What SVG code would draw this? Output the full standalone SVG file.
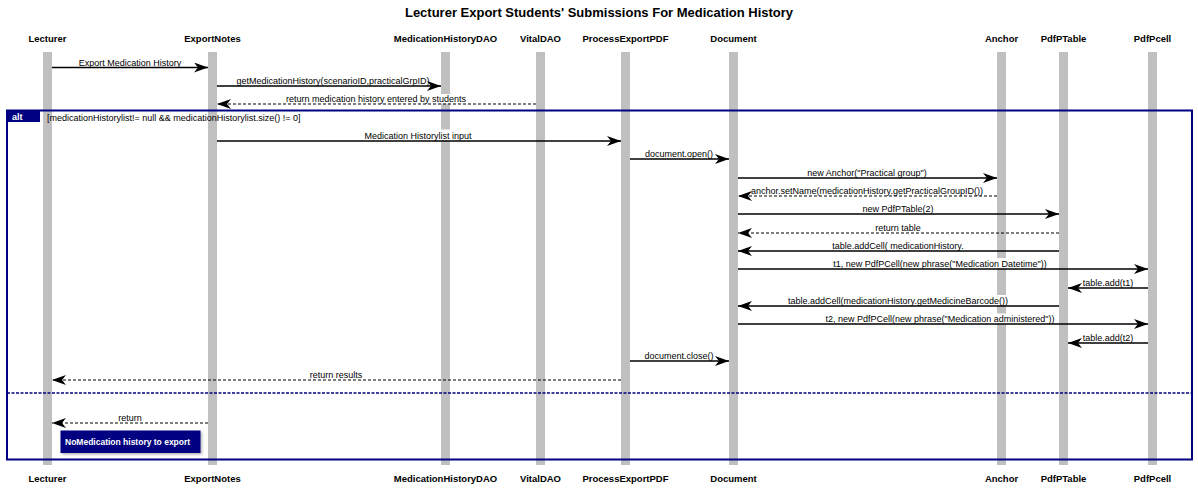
<svg xmlns="http://www.w3.org/2000/svg" width="1198" height="490" viewBox="0 0 1198 490">
<style>
.title{font-family:"Liberation Sans",Arial,sans-serif;font-size:13px;font-weight:bold;fill:#000;text-anchor:middle}
.pname{font-family:"Liberation Sans",Arial,sans-serif;font-size:9.5px;font-weight:bold;fill:#000;text-anchor:middle}
.life{fill:#c0c0c0}
.gap{fill:#fff}
.msg{stroke:#000;stroke-width:1.4;fill:none;marker-end:url(#head)}
.ret{stroke:#000;stroke-width:1.2;fill:none;stroke-dasharray:3,2;marker-end:url(#head)}
.lbl{font-family:"Liberation Sans",Arial,sans-serif;font-size:9px;fill:#000;text-anchor:middle}
.cond{font-family:"Liberation Sans",Arial,sans-serif;font-size:9px;fill:#000}
.frame{fill:none;stroke:#000080;stroke-width:2}
.tab{fill:#000080}
.tabtxt{font-family:"Liberation Sans",Arial,sans-serif;font-size:9px;font-weight:bold;fill:#fff}
.note{fill:#000080}
.notetxt{font-family:"Liberation Sans",Arial,sans-serif;font-size:8.5px;font-weight:bold;fill:#fff}
</style>
<defs>
<marker id="head" markerUnits="userSpaceOnUse" markerWidth="15" markerHeight="11" refX="14" refY="5" orient="auto">
<path d="M0,0 L14,5 L0,10 L4,5 z" fill="#000"/>
</marker>
<filter id="shadow" x="-10%" y="-10%" width="130%" height="140%">
<feDropShadow dx="1.5" dy="1.5" stdDeviation="1" flood-color="#000" flood-opacity="0.3"/>
</filter>
</defs>
<rect width="1198" height="490" fill="#fff"/>
<text class="title" x="599" y="17">Lecturer Export Students' Submissions For Medication History</text>

<g id="lecturer"><text class="pname" x="47.5" y="42">Lecturer</text><rect class="life" x="43" y="52" width="9" height="413"/><text class="pname" x="47.5" y="482">Lecturer</text></g>
<g id="exportnotes"><text class="pname" x="212.5" y="42">ExportNotes</text><rect class="life" x="208" y="52" width="9" height="413"/><text class="pname" x="212.5" y="482">ExportNotes</text></g>
<g id="medicationhistorydao"><text class="pname" x="445.5" y="42">MedicationHistoryDAO</text><rect class="life" x="441" y="52" width="9" height="413"/><text class="pname" x="445.5" y="482">MedicationHistoryDAO</text></g>
<g id="vitaldao"><text class="pname" x="540.5" y="42">VitalDAO</text><rect class="life" x="536" y="52" width="9" height="413"/><text class="pname" x="540.5" y="482">VitalDAO</text></g>
<g id="processexportpdf"><text class="pname" x="625.5" y="42">ProcessExportPDF</text><rect class="life" x="621" y="52" width="9" height="413"/><text class="pname" x="625.5" y="482">ProcessExportPDF</text></g>
<g id="document"><text class="pname" x="733.5" y="42">Document</text><rect class="life" x="729" y="52" width="9" height="413"/><text class="pname" x="733.5" y="482">Document</text></g>
<g id="anchor"><text class="pname" x="1001.5" y="42">Anchor</text><rect class="life" x="997" y="52" width="9" height="413"/><text class="pname" x="1001.5" y="482">Anchor</text></g>
<g id="pdfptable"><text class="pname" x="1063.5" y="42">PdfPTable</text><rect class="life" x="1059" y="52" width="9" height="413"/><text class="pname" x="1063.5" y="482">PdfPTable</text></g>
<g id="pdfpcell"><text class="pname" x="1152.5" y="42">PdfPcell</text><rect class="life" x="1148" y="52" width="9" height="413"/><text class="pname" x="1152.5" y="482">PdfPcell</text></g>

<g id="connectors">
<g id="label-backgrounds">
<rect class="gap" x="440" y="94" width="11" height="9.5"/>
<rect class="gap" x="440" y="129.5" width="11" height="11"/>
<rect class="gap" x="996" y="258" width="11" height="10.5"/>
<rect class="gap" x="996" y="295" width="11" height="10.5"/>
<rect class="gap" x="996" y="313.5" width="11" height="10"/>
</g>
<g id="labels">
<text class="lbl" x="130" y="65.5">Export Medication History</text>
<text class="lbl" x="333" y="84">getMedicationHistory(scenarioID,practicalGrpID)</text>
<text class="lbl" x="376" y="102">return medication history entered by students</text>
<text class="lbl" x="418" y="139">Medication Historylist input</text>
<text class="lbl" x="679" y="157">document.open()</text>
<text class="lbl" x="867" y="176">new Anchor("Practical group")</text>
<text class="lbl" x="867" y="194">anchor.setName(medicationHistory.getPracticalGroupID())</text>
<text class="lbl" x="898" y="212">new PdfPTable(2)</text>
<text class="lbl" x="898" y="231">return table</text>
<text class="lbl" x="898" y="249">table.addCell( medicationHistory.</text>
<text class="lbl" x="940" y="267">t1, new PdfPCell(new phrase("Medication Datetime"))</text>
<text class="lbl" x="1108" y="286">table.add(t1)</text>
<text class="lbl" x="898" y="304">table.addCell(medicationHistory.getMedicineBarcode())</text>
<text class="lbl" x="940" y="322">t2, new PdfPCell(new phrase("Medication administered"))</text>
<text class="lbl" x="1108" y="341">table.add(t2)</text>
<text class="lbl" x="679" y="359">document.close()</text>
<text class="lbl" x="336" y="378">return results</text>
<text class="lbl" x="130" y="421">return</text>
</g>
<line class="msg" x1="52" y1="67.5" x2="208" y2="67.5"/>
<line class="msg" x1="217" y1="86" x2="441" y2="86"/>
<line class="ret" x1="536" y1="104" x2="217" y2="104"/>
<line class="msg" x1="217" y1="141" x2="621" y2="141"/>
<line class="msg" x1="630" y1="159" x2="729" y2="159"/>
<line class="msg" x1="738" y1="178" x2="997" y2="178"/>
<line class="ret" x1="997" y1="196" x2="738" y2="196"/>
<line class="msg" x1="738" y1="214" x2="1059" y2="214"/>
<line class="ret" x1="1059" y1="233" x2="738" y2="233"/>
<line class="msg" x1="1059" y1="251" x2="738" y2="251"/>
<line class="msg" x1="738" y1="269" x2="1148" y2="269"/>
<line class="msg" x1="1148" y1="288" x2="1068" y2="288"/>
<line class="msg" x1="1059" y1="306" x2="738" y2="306"/>
<line class="msg" x1="738" y1="324" x2="1148" y2="324"/>
<line class="msg" x1="1148" y1="343" x2="1068" y2="343"/>
<line class="msg" x1="630" y1="361" x2="729" y2="361"/>
<line class="ret" x1="621" y1="380" x2="52" y2="380"/>
<line class="ret" x1="208" y1="423" x2="52" y2="423"/>
</g>

<g id="alt">
<rect class="frame" x="7" y="110.5" width="1185" height="349"/>
<rect class="tab" x="8" y="111" width="32" height="11"/>
<text class="tabtxt" x="12" y="120">alt</text>
<text class="cond" x="47" y="121">[medicationHistorylist!= null &amp;&amp; medicationHistorylist.size() != 0]</text>
<line x1="7" y1="393" x2="1192" y2="393" stroke="#000080" stroke-width="1.5" stroke-dasharray="3,1.5"/>
</g>

<g id="note">
<rect class="note" x="60.5" y="430.5" width="140" height="22.5" filter="url(#shadow)"/>
<text class="notetxt" x="65" y="445">NoMedication history to export</text>
</g>
</svg>
